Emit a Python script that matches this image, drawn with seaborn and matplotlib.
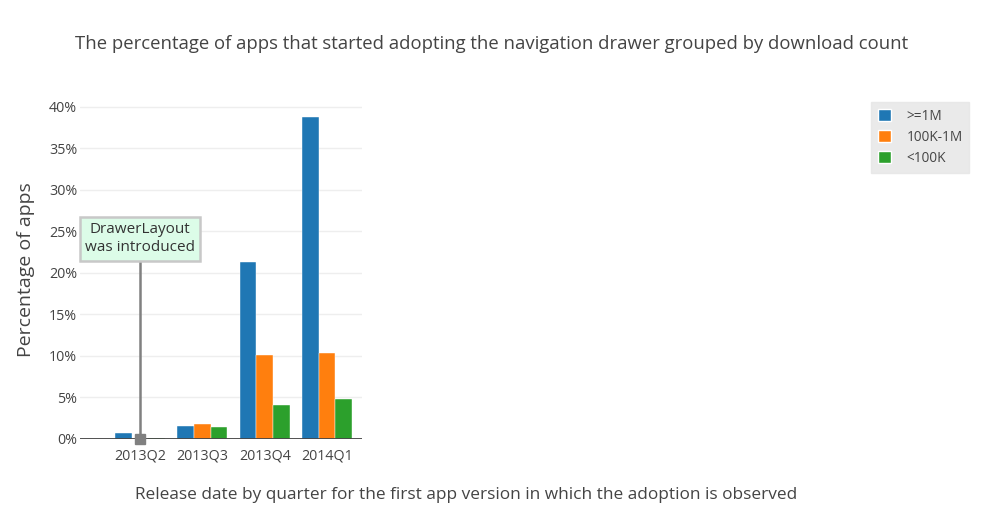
import numpy as np
import pandas as pd
import matplotlib
matplotlib.use('Agg')
import matplotlib.pyplot as plt
import seaborn as sns
from matplotlib.patches import Patch
from matplotlib.ticker import FuncFormatter

# values (percent of apps)
quarters = ['2013Q2', '2013Q3', '2013Q4', '2014Q1']
groups = ['>=1M', '100K-1M', '<100K']
pct_1m = [0.7, 1.6, 21.3, 38.75]
pct_100k = [0.05, 1.8, 10.1, 10.35]
pct_small = [0.1, 1.5, 4.05, 4.8]
colors = ['#1f77b4', '#ff7f0e', '#2ca02c']

note_quarter = '2013Q2'
note_text = 'DrawerLayout\nwas introduced'
note_y = 24.1

df = pd.DataFrame({
    'quarter': quarters * 3,
    'group': [g for g in groups for _ in quarters],
    'pct': pct_1m + pct_100k + pct_small,
})

sns.set_style('white')
plt.rcParams['font.family'] = ['Open Sans', 'DejaVu Sans']
text_col = '#444444'

fig = plt.figure(figsize=(9.85, 5.25), dpi=100)
W, H = 985, 525
ax = fig.add_axes([80 / W, 1 - 439 / H, (362 - 80) / W, (439 - 101) / H])

sns.barplot(data=df, x='quarter', y='pct', hue='group', order=quarters,
            hue_order=groups, palette=colors, width=0.8, ax=ax,
            saturation=1, legend=False, edgecolor='white', linewidth=0.3)

ax.set_xlim(-0.963, 3.56)
ax.set_ylim(0, 40.7)
ax.set_yticks([0, 5, 10, 15, 20, 25, 30, 35, 40])
ax.yaxis.set_major_formatter(FuncFormatter(lambda v, p: '%d%%' % v))
ax.grid(axis='y', color='#eeeeee', linewidth=1)
ax.set_axisbelow(True)
for s in ax.spines.values():
    s.set_visible(False)
ax.axhline(0, color='#444444', linewidth=1.3, zorder=1)
ax.tick_params(axis='both', length=0, labelsize=10.3, labelcolor=text_col)
ax.tick_params(axis='y', pad=2)
ax.tick_params(axis='x', pad=7)
ax.set_xlabel('')
ax.set_ylabel('Percentage of apps', fontsize=14, color=text_col, labelpad=10)

# annotation marker and line
xi = quarters.index(note_quarter)
ax.plot([xi, xi], [0, note_y], color='#808080', linewidth=1.8, zorder=4,
        clip_on=False)
ax.plot([xi], [0.05], marker='s', markersize=7.5, color='#808080', zorder=5,
        clip_on=False)
ax.text(xi, note_y, note_text, ha='center', va='center', fontsize=11,
        color='#333333', zorder=6, linespacing=1.25,
        bbox=dict(boxstyle='square,pad=0.35', facecolor='#dcfce8',
                  edgecolor='#c8c8c8', linewidth=1.8))

fig.text(492 / W, 1 - 44 / H,
         'The percentage of apps that started adopting the navigation drawer grouped by download count',
         ha='center', va='center', fontsize=13.3, color=text_col)
fig.text(466 / W, 1 - 495 / H,
         'Release date by quarter for the first app version in which the adoption is observed',
         ha='center', va='center', fontsize=12.4, color=text_col)

handles = [Patch(facecolor=c, label=g) for c, g in zip(colors, groups)]
leg = fig.legend(handles=handles, loc='upper left',
                 bbox_to_anchor=(871 / W, 1 - 102 / H), frameon=True,
                 fontsize=9.8, fancybox=False, handlelength=1.0,
                 handleheight=1.0, handletextpad=1.1, borderpad=0.5,
                 borderaxespad=0, labelspacing=0.45)
leg.get_frame().set_facecolor('#e5e5e5')
leg.get_frame().set_edgecolor('#e5e5e5')
for t in leg.get_texts():
    t.set_color(text_col)

fig.savefig('out.png', dpi=100)
